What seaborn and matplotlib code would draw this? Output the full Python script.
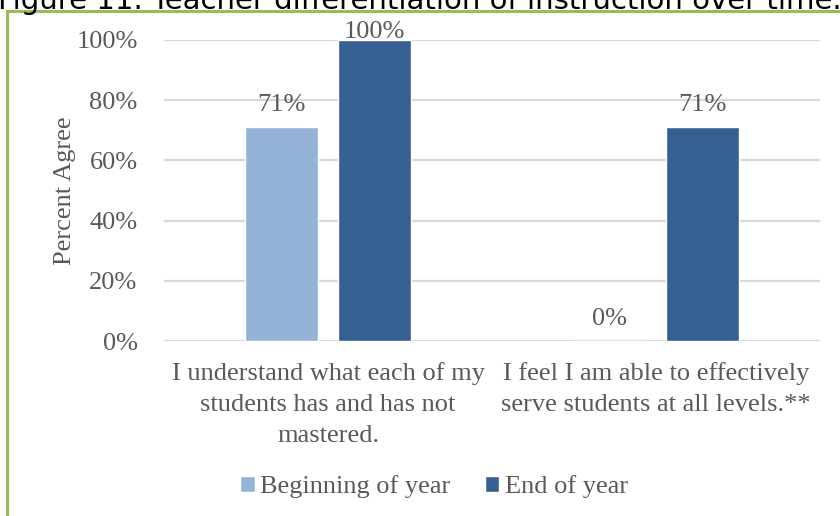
import matplotlib
matplotlib.use("Agg")
import matplotlib.pyplot as plt
import seaborn as sns
import pandas as pd
from matplotlib.patches import Rectangle

categories = ["I understand what each of my\nstudents has and has not\nmastered.",
              "I feel I am able to effectively\nserve students at all levels.**"]
series = ["Beginning of year", "End of year"]
beginning = [0.71, 0.0]
end = [1.00, 0.71]
labels_begin = ["71%", "0%"]
labels_end = ["100%", "71%"]
yticks = [0, 0.2, 0.4, 0.6, 0.8, 1.0]
ytick_labels = ["0%", "20%", "40%", "60%", "80%", "100%"]
title = "Figure 11. Teacher differentiation of instruction over time."

df = pd.DataFrame({
    "cat": categories * 2,
    "series": [series[0]] * 2 + [series[1]] * 2,
    "val": beginning + end,
})

sns.set_theme(style="white")
plt.rcParams["font.family"] = ["Liberation Serif", "DejaVu Serif"]
TXT = "#595959"
FS = 19

W, H = 840, 516
fig = plt.figure(figsize=(W / 100, H / 100), dpi=100)
ax = fig.add_axes([164 / W, 1 - 341 / H, (820 - 164) / W, (341 - 40) / H])

sns.barplot(data=df, x="cat", y="val", hue="series", hue_order=series,
            palette=["#95B3D7", "#376092"], width=0.567, gap=0.215,
            ax=ax, saturation=1, legend=True)

ax.set_ylim(0, 1.0)
ax.set_xlim(-0.5, 1.5)
ax.set_yticks(yticks)
ax.set_yticklabels(ytick_labels, color=TXT, fontsize=FS)
ax.yaxis.grid(True, color="#D9D9D9", linewidth=1.6)
ax.set_axisbelow(True)
for s in ax.spines.values():
    s.set_visible(False)
ax.tick_params(axis="y", length=0, pad=19)
ax.tick_params(axis="x", length=0, pad=15)
ax.set_xticks([0, 1])
ax.set_xticklabels(categories, color=TXT, fontsize=FS, linespacing=1.54, va="top")
ax.set_xlabel("")
ax.set_ylabel("Percent Agree", color=TXT, fontsize=FS, labelpad=0)

# data labels
for cont, labs in zip(ax.containers, [labels_begin, labels_end]):
    anns = ax.bar_label(cont, labels=labs, padding=8, color=TXT, fontsize=FS)
    for a, lab in zip(anns, labs):
        if lab == "100%":
            a.xyann = (0, -2)

handles, labs = ax.get_legend_handles_labels()
ax.get_legend().remove()
fig.legend(handles, labs, loc="center", bbox_to_anchor=(434 / W, 1 - 487 / H),
           ncol=2, frameon=False, fontsize=FS, handlelength=0.55, handleheight=0.55,
           handletextpad=0.2, columnspacing=1.3, labelcolor=TXT)

# green border
fig.patches.append(Rectangle((7 / W, -0.1), 1.2, 1 - 11 / H + 0.1,
                             transform=fig.transFigure, fill=False,
                             edgecolor="#9BBB59", linewidth=2.2))

# clipped title
fig.text(-2 / W, 1 - 9 / H, title, ha="left", va="baseline", fontsize=21,
         family=["DejaVu Sans"], color="#000000")

fig.savefig("out.png", dpi=100)
